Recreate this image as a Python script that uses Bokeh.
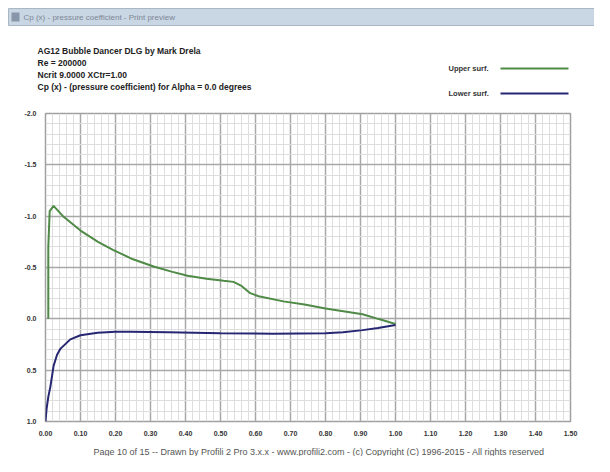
from bokeh.plotting import figure
from bokeh.models import Range1d, FixedTicker
from bokeh.layouts import column, row
from bokeh.core.properties import value
from bokeh.embed import file_html
from bokeh.resources import INLINE

# ---- data ----
upper_x = [0.008, 0.008, 0.012, 0.023, 0.05, 0.10, 0.15, 0.194, 0.25, 0.309, 0.36, 0.406,
           0.46, 0.509, 0.537, 0.56, 0.585, 0.609, 0.68, 0.74, 0.80, 0.86, 0.906, 0.95, 1.0]
upper_cp = [0.0, -0.70, -1.05, -1.10, -1.00, -0.86, -0.75, -0.67, -0.58, -0.51, -0.46, -0.42,
            -0.39, -0.37, -0.36, -0.32, -0.25, -0.22, -0.17, -0.14, -0.10, -0.07, -0.045, 0.0, 0.05]
lower_x = [0.0, 0.003, 0.008, 0.014, 0.023, 0.033, 0.043, 0.071, 0.10, 0.149, 0.20, 0.243,
           0.35, 0.50, 0.65, 0.80, 0.85, 0.906, 0.95, 1.0]
lower_cp = [1.0, 0.88, 0.76, 0.66, 0.46, 0.35, 0.29, 0.20, 0.16, 0.135, 0.125, 0.125,
            0.13, 0.14, 0.145, 0.14, 0.13, 0.11, 0.09, 0.06]
x_ticks = [0.0, 0.1, 0.2, 0.3, 0.4, 0.5, 0.6, 0.7, 0.8, 0.9, 1.0, 1.1, 1.2, 1.3, 1.4, 1.5]
x_tick_labels = ["0.00", "0.10", "0.20", "0.30", "0.40", "0.50", "0.60", "0.70", "0.80",
                 "0.90", "1.00", "1.10", "1.20", "1.30", "1.40", "1.50"]
y_ticks = [-2.0, -1.5, -1.0, -0.5, 0.0, 0.5, 1.0]
y_tick_labels = ["-2.0", "-1.5", "-1.0", "-0.5", "0.0", "0.5", "1.0"]
title_lines = ["AG12 Bubble Dancer DLG by Mark Drela",
               "Re = 200000",
               "Ncrit 9.0000  XCtr=1.00",
               "Cp (x) - (pressure coefficient) for Alpha = 0.0 degrees"]
series_names = ["Upper surf.", "Lower surf."]
window_title = "Cp (x) - pressure coefficient - Print preview"
footer_text = ("Page 10 of 15  --  Drawn by Profili 2 Pro 3.x.x - www.profili2.com - "
               "(c) Copyright (C) 1996-2015 - All rights reserved")

GREEN = "#4f8a46"
BLUE = "#262672"
FONT = "Liberation Sans"
W = 594


def blank(h):
    f = figure(width=W, height=h, output_backend="svg", toolbar_location=None,
               x_range=Range1d(0, W), y_range=Range1d(h, 0),
               x_axis_type=None, y_axis_type=None,
               min_border=0, min_border_left=0, min_border_right=0,
               min_border_top=0, min_border_bottom=0,
               outline_line_color=None, background_fill_color="white",
               border_fill_color="white")
    f.grid.visible = False
    return f


# ---- header (window title bar, title block, legend) ----
HH = 108
head = blank(HH)
head.quad(left=[8], right=[W], top=[8], bottom=[25], fill_color="#c9d6e3",
          line_color="#a9b6c4", line_width=1)
head.quad(left=[11], right=[19], top=[12], bottom=[21], fill_color="#8796a8", line_color=None)
head.text(x=[23], y=[16.5], text=[window_title], text_font=value(FONT),
          text_font_size="8px", text_color="#7d8896", text_baseline="middle")
for i, t in enumerate(title_lines):
    head.text(x=[37], y=[50 + 12.3 * i], text=[t], text_font=value(FONT),
              text_font_size="8.5px", text_font_style="bold", text_color="#222222",
              text_baseline="middle")
for i, (name, col) in enumerate(zip(series_names, [GREEN, BLUE])):
    yy = 68 + 25 * i
    head.text(x=[448], y=[yy], text=[name], text_font=value(FONT),
              text_font_size="7.5px", text_font_style="bold", text_color="#333333",
              text_baseline="middle")
    head.line(x=[500, 568], y=[yy, yy], line_color=col, line_width=2)

# ---- main chart ----
p = figure(width=W, height=333, output_backend="svg", toolbar_location=None,
           x_range=Range1d(0.0, 1.5), y_range=Range1d(1.0, -2.0),
           min_border_left=45, min_border_right=24, min_border_top=5, min_border_bottom=20,
           background_fill_color="white", border_fill_color="white",
           outline_line_color="#a0a0a0", outline_line_width=1.5)

minor_x = [round(i * 0.02, 3) for i in range(76) if i % 5 != 0]
minor_y = [round(-2.0 + i * 0.1, 3) for i in range(31) if i % 5 != 0]
p.xaxis.ticker = FixedTicker(ticks=x_ticks, minor_ticks=minor_x)
p.yaxis.ticker = FixedTicker(ticks=y_ticks, minor_ticks=minor_y)
p.xaxis.major_label_overrides = {t: l for t, l in zip(x_ticks, x_tick_labels)}
p.yaxis.major_label_overrides = {t: l for t, l in zip(y_ticks, y_tick_labels)}

for ax in (p.xaxis[0], p.yaxis[0]):
    ax.axis_line_color = None
    ax.major_tick_line_color = None
    ax.minor_tick_line_color = None
    ax.major_label_text_font = FONT
    ax.major_label_text_font_size = "7px"
    ax.major_label_text_font_style = "bold"
    ax.major_label_text_color = "#333333"
    ax.major_label_standoff = 3

p.grid.grid_line_color = "#a8a8a8"
p.grid.grid_line_width = 1.5
p.grid.minor_grid_line_color = "#dedede"
p.grid.minor_grid_line_width = 1

p.line(upper_x, upper_cp, line_color=GREEN, line_width=2)
p.line(lower_x, lower_cp, line_color=BLUE, line_width=2)

# ---- footer ----
FH = 15
foot = blank(FH)
foot.text(x=[321], y=[10.5], text=[footer_text], text_font=value(FONT),
          text_font_size="9px", text_color="#555555", text_align="center",
          text_baseline="middle")

layout = column(row(head), p, row(foot), spacing=0)

with open("out.html", "w") as f:
    f.write(file_html(layout, INLINE))
